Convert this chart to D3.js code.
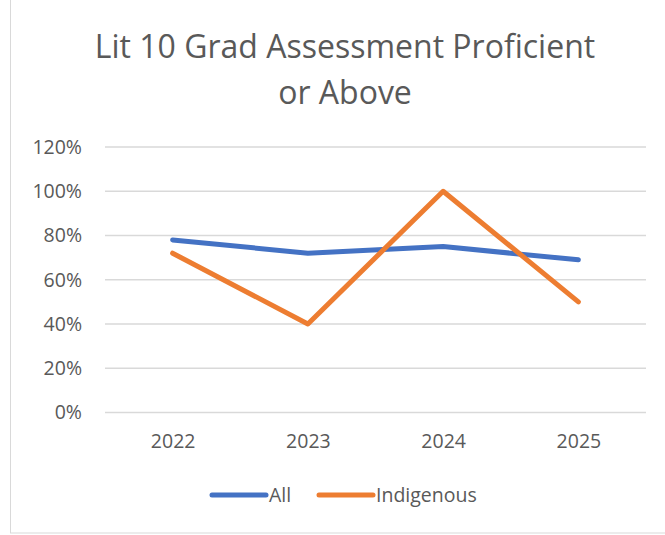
<!DOCTYPE html>
<html>
<head>
<meta charset="utf-8">
<script src="https://cdn.jsdelivr.net/npm/d3@7"></script>
<style>
  body { margin: 0; background: #fff; }
  text { font-family: "Open Sans", "Noto Sans", sans-serif; fill: #595959; }
</style>
</head>
<body>
<div id="chart"></div>
<script>
"use strict";

var years = ["2022", "2023", "2024", "2025"];
var allValues = [78, 72, 75, 69];
var indigenousValues = [72, 40, 100, 50];
var yTicks = [0, 20, 40, 60, 80, 100, 120];
var seriesNames = ["All", "Indigenous"];
var seriesColors = ["#4472c4", "#ed7d31"];

var width = 665, height = 535;
var plot = { left: 105, right: 646, top: 147, bottom: 412.5 };

var svg = d3.select("#chart").append("svg")
  .attr("width", width)
  .attr("height", height);

// chart frame
svg.append("rect")
  .attr("x", 10.5).attr("y", -1)
  .attr("width", 660).attr("height", 534)
  .attr("fill", "none")
  .attr("stroke", "#d9d9d9");

var title = svg.append("text")
  .attr("text-anchor", "middle")
  .style("font-size", "32px");
title.append("tspan").attr("x", 345).attr("y", 58).text("Lit 10 Grad Assessment Proficient");
title.append("tspan").attr("x", 345).attr("y", 104).text("or Above");

var x = d3.scalePoint().domain(years).range([plot.left, plot.right]).padding(0.5);
var y = d3.scaleLinear().domain([0, 120]).range([plot.bottom, plot.top]);

// gridlines
svg.append("g").selectAll("line")
  .data(yTicks)
  .enter().append("line")
  .attr("x1", plot.left).attr("x2", plot.right)
  .attr("y1", function(d) { return y(d); })
  .attr("y2", function(d) { return y(d); })
  .attr("stroke", "#d9d9d9")
  .attr("stroke-width", 1.3);

// y axis labels
var yAxis = d3.axisLeft(y).tickValues(yTicks).tickSize(0).tickPadding(0)
  .tickFormat(function(d) { return d + "%"; });
var gy = svg.append("g").attr("transform", "translate(82,0)").call(yAxis);
gy.select(".domain").remove();
gy.attr("font-size", null).attr("font-family", null);
gy.selectAll("text").style("font-size", "19.5px").attr("fill", "#595959");

// x axis labels
var xAxis = d3.axisBottom(x).tickSize(0).tickPadding(0);
var gx = svg.append("g").attr("transform", "translate(0,434)").call(xAxis);
gx.select(".domain").remove();
gx.attr("font-size", null).attr("font-family", null);
gx.selectAll("text").style("font-size", "19.5px").attr("fill", "#595959");

var line = d3.line()
  .x(function(d, i) { return x(years[i]); })
  .y(function(d) { return y(d); });

[allValues, indigenousValues].forEach(function(vals, k) {
  svg.append("path")
    .datum(vals)
    .attr("d", line)
    .attr("fill", "none")
    .attr("stroke", seriesColors[k])
    .attr("stroke-width", 5)
    .attr("stroke-linecap", "round")
    .attr("stroke-linejoin", "round");
});

// legend
var legendX = [212, 319];
seriesNames.forEach(function(name, k) {
  var g = svg.append("g").attr("transform", "translate(" + legendX[k] + ",495)");
  g.append("line")
    .attr("x1", 0).attr("x2", 54)
    .attr("stroke", seriesColors[k])
    .attr("stroke-width", 5)
    .attr("stroke-linecap", "round");
  g.append("text")
    .attr("x", 57).attr("y", 7)
    .style("font-size", "19.5px")
    .text(name);
});
</script>
</body>
</html>
